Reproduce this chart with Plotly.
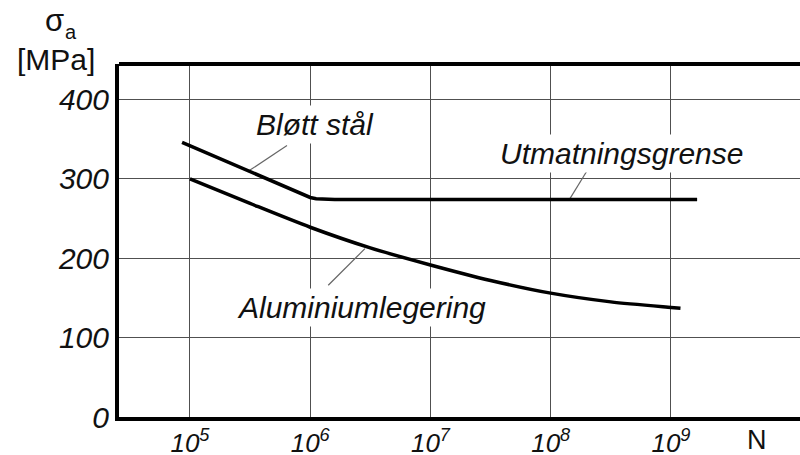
import plotly.graph_objects as go

# ---- data ----
steel_N = [8.6e4, 3.16e5, 6.3e5, 7.9e5, 8.9e5, 1.0e6, 1.12e6, 1.26e6, 1.6e6, 1.65e9]
steel_S = [346, 309, 289, 283, 279.5, 276.5, 275, 274.4, 274, 274]

alu_N = [1e5, 3.16e5, 1e6, 3.16e6, 1e7, 3.16e7, 1e8, 3.16e8, 1e9, 1.2e9]
alu_S = [300, 269, 239, 213, 191.5, 172, 156, 145, 138, 137]

x_tickvals = [1e5, 1e6, 1e7, 1e8, 1e9]
x_ticktext = ["<i>10<sup>5</sup></i>", "<i>10<sup>6</sup></i>", "<i>10<sup>7</sup></i>",
              "<i>10<sup>8</sup></i>", "<i>10<sup>9</sup></i>"]
y_tickvals = [0, 100, 200, 300, 400]
y_ticktext = ["<i>0</i>", "<i>100</i>", "<i>200</i>", "<i>300</i>", "<i>400</i>"]

labels = ["Bløtt stål", "Aluminiumlegering", "Utmatningsgrense"]
label_logx = [6.04, 6.43, 8.59]
label_y = [369, 138, 332]

# leader lines (label -> curve)
lead_steel_N = [10**5.807, 10**5.49]
lead_steel_S = [342, 310]
lead_alu_N = [10**6.15, 10**6.455]
lead_alu_S = [166, 212]
lead_lim_N = [10**8.31, 10**8.16]
lead_lim_S = [312, 275]

FONT = "Liberation Sans, Arial, Helvetica, sans-serif"

fig = go.Figure()

for xs, ys in [(lead_steel_N, lead_steel_S), (lead_alu_N, lead_alu_S), (lead_lim_N, lead_lim_S)]:
    fig.add_trace(go.Scatter(x=xs, y=ys, mode="lines",
                             line=dict(color="#666666", width=1.2),
                             hoverinfo="skip", showlegend=False))

fig.add_trace(go.Scatter(x=steel_N, y=steel_S, mode="lines", name="Bløtt stål",
                         line=dict(color="black", width=3.5), showlegend=False))
fig.add_trace(go.Scatter(x=alu_N, y=alu_S, mode="lines", name="Aluminiumlegering",
                         line=dict(color="black", width=3.5, shape="spline", smoothing=0.8),
                         showlegend=False))

for t, lx, ly in zip(labels, label_logx, label_y):
    fig.add_annotation(x=lx, y=ly, xref="x", yref="y", text="<i>" + t + "</i>",
                       showarrow=False, bgcolor="white", borderpad=2,
                       xanchor="center", yanchor="middle",
                       font=dict(family=FONT, size=30, color="#111"))

L, T, B, W, H = 119, 64, 417, 800, 455
def px(xp):
    return (xp - L) / (W - L)
def py(yp):
    return (B - yp) / (B - T)

fig.add_annotation(x=px(54), y=py(21), xref="paper", yref="paper",
                   text="σ", showarrow=False,
                   xanchor="center", yanchor="middle",
                   font=dict(family=FONT, size=31, color="#111"))
fig.add_annotation(x=px(71), y=py(32), xref="paper", yref="paper",
                   text="a", showarrow=False,
                   xanchor="center", yanchor="middle",
                   font=dict(family=FONT, size=20, color="#111"))
fig.add_annotation(x=px(56), y=py(59), xref="paper", yref="paper",
                   text="[MPa]", showarrow=False,
                   xanchor="center", yanchor="middle",
                   font=dict(family=FONT, size=30, color="#111"))
fig.add_annotation(x=px(757), y=py(440), xref="paper", yref="paper",
                   text="N", showarrow=False,
                   xanchor="center", yanchor="middle",
                   font=dict(family=FONT, size=27, color="#111"))

# top frame line
fig.add_shape(type="line", xref="paper", yref="paper", x0=0, x1=1, y0=1, y1=1,
              line=dict(color="black", width=4))

fig.update_layout(
    width=W, height=H,
    margin=dict(l=L, r=0, t=T, b=H - B, autoexpand=False),
    paper_bgcolor="white", plot_bgcolor="white",
    showlegend=False,
)
fig.update_xaxes(type="log", range=[4.41, 10.073],
                 tickvals=x_tickvals, ticktext=x_ticktext,
                 tickfont=dict(family=FONT, size=26, color="#111"),
                 showgrid=True, gridcolor="#505050", gridwidth=1,
                 showline=True, linecolor="black", linewidth=4,
                 ticks="", zeroline=False, ticklabelstandoff=0, automargin=False)
fig.update_yaxes(range=[0, 444.6],
                 tickvals=y_tickvals, ticktext=y_ticktext,
                 tickfont=dict(family=FONT, size=30, color="#111"),
                 showgrid=True, gridcolor="#505050", gridwidth=1,
                 showline=True, linecolor="black", linewidth=4,
                 ticks="", zeroline=False, ticklabelstandoff=0, automargin=False)

fig.write_html("out.html", config={"displayModeBar": False},
               post_script="document.body.style.margin='0';document.body.style.overflow='hidden';")
